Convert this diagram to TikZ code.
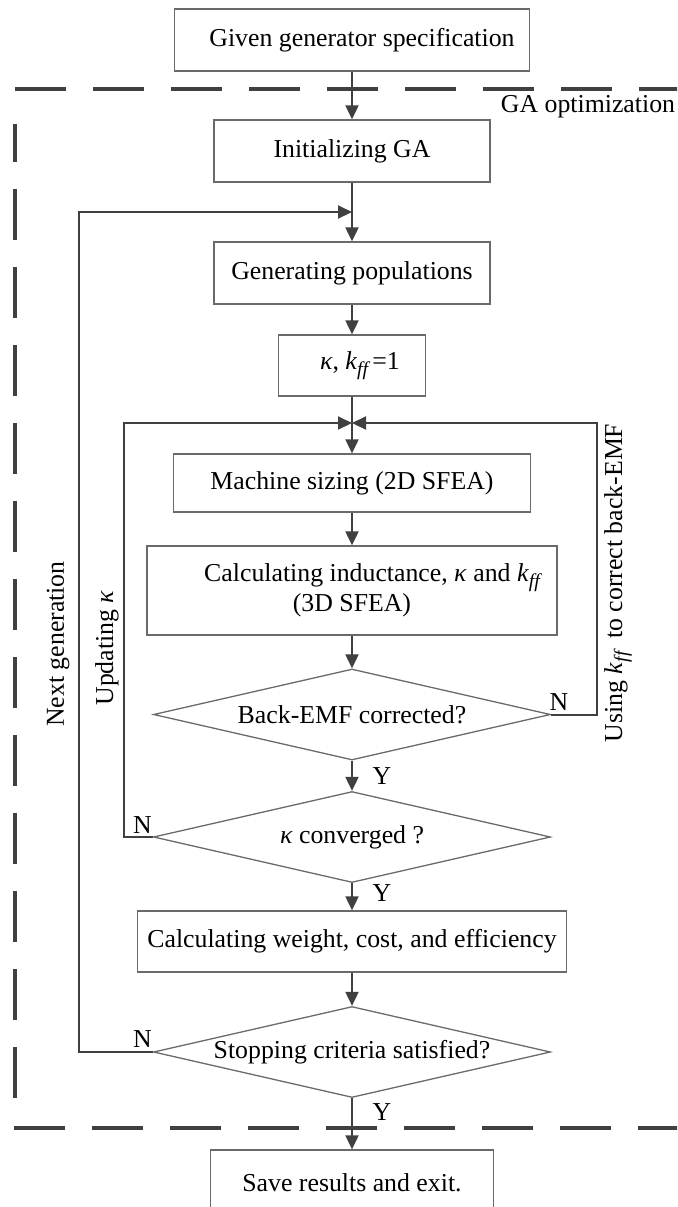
\documentclass[tikz,border=0pt]{standalone}
\usepackage{fontspec}
\setmainfont{Liberation Serif}
\usetikzlibrary{arrows.meta,shapes.geometric}
\definecolor{linegray}{HTML}{404040}
\definecolor{boxgray}{HTML}{6A6A6A}
\newcommand{\kff}{\textit{k}\raisebox{-0.45ex}{\fontsize{9.8}{10}\selectfont\itshape ff}}
\newcommand{\kap}{\textit{κ}}
\begin{document}
\begin{tikzpicture}[x=0.5pt,y=-0.5pt,
  txt/.style={font=\fontsize{12.9}{15}\selectfont, text=black},
  box/.style={txt, draw=boxgray, line width=0.65pt, rectangle, inner sep=0pt, align=center},
  dec/.style={txt, draw=boxgray, line width=0.65pt, diamond, inner sep=0pt, shape aspect=4.3, minimum width=198.5pt, minimum height=45.5pt},
  conn/.style={draw=linegray, line width=1pt},
  arr/.style={conn, -{Triangle[length=7pt,width=6.5pt]}},
  dashb/.style={draw=linegray, line width=1.75pt, dash pattern=on 25.5pt off 13.5pt},
  lbl/.style={txt, inner sep=0pt},
]
\useasboundingbox (0,0) rectangle (677,1207);
\clip (0,0) rectangle (677,1207);

% dashed GA region
\draw[dashb] (15,89) -- (700,89);
\draw[dashb] (14,1128) -- (700,1128);
\draw[dashb] (15,1098) -- (15,124);
\node[lbl] (gaopt) at (588,107) {GA optimization};

% nodes
\node[box, minimum width=177.5pt, minimum height=31pt] (given) at (352,40) {\hspace*{10pt}Given generator specification};
\node[box, minimum width=138pt, minimum height=31pt] (init) at (352,151) {Initializing GA};
\node[box, minimum width=138pt, minimum height=31pt] (gen) at (352,273) {Generating populations};
\node[box, minimum width=73.5pt, minimum height=30.5pt] (kapbox) at (352,365.5) {\hspace*{8pt}\kap,\ \kff\,=1};
\node[box, minimum width=178.5pt, minimum height=29pt] (mach) at (352,483) {Machine sizing (2D SFEA)};
\node[box, minimum width=205pt, minimum height=44.5pt] (calc) at (352,590.5) {\hspace*{20pt}Calculating inductance, \kap\ and \kff\\(3D SFEA)};
\node[dec] (bemf) at (352,714.5) {Back-EMF corrected?};
\node[dec] (conv) at (352,837) {\kap\ converged ?};
\node[box, minimum width=214.5pt, minimum height=30.5pt] (wt) at (352,941.5) {Calculating weight, cost, and efficiency};
\node[dec] (stop) at (352,1052) {Stopping criteria satisfied?};
\node[box, minimum width=141.5pt, minimum height=33pt] (save) at (352,1183) {Save results and exit.};

% junction coordinates
\coordinate (j1) at (352,212);
\coordinate (fbL) at (79,212);
\coordinate (j2) at (352,423);
\coordinate (ilL) at (124,423);
\coordinate (ilR) at (597,423);

% connectors
\draw[arr] (given) -- (init);
\draw[arr] (init) -- (gen);
\draw[arr] (stop.west) -| (fbL) -- (j1);
\draw[arr] (gen) -- (kapbox);
\draw[arr] (kapbox) -- (mach);
\draw[arr] (conv.west) -| (ilL) -- (j2);
\draw[arr] (bemf.east) -| (ilR) -- (j2);
\draw[arr] (mach) -- (calc);
\draw[arr] (calc) -- (bemf);
\draw[arr] (bemf) -- (conv);
\draw[arr] (conv) -- (wt);
\draw[arr] (wt) -- (stop);
\draw[arr] (stop) -- (save);

% labels
\node[lbl] (y1) at (382,776) {Y};
\node[lbl] (y2) at (382,893) {Y};
\node[lbl] (y3) at (382,1112) {Y};
\node[lbl] (n1) at (559,702) {N};
\node[lbl] (n2) at (142.5,825) {N};
\node[lbl] (n3) at (142.5,1039) {N};
\node[lbl, rotate=90] (nextg) at (58,644) {Next generation};
\node[lbl, rotate=90] (upd) at (107,648) {Updating \kap};
\node[lbl, rotate=90] (using) at (618,583) {Using \kff\ \ to correct back-EMF};
\end{tikzpicture}
\end{document}
